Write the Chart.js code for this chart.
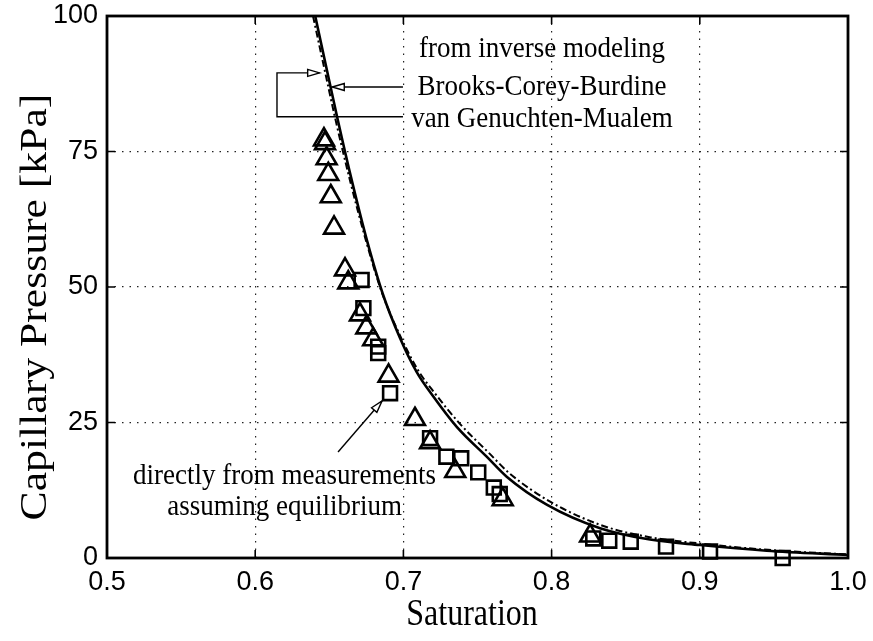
<!DOCTYPE html>
<html><head><meta charset="utf-8">
<script src="https://cdn.jsdelivr.net/npm/chart.js@4.4.1/dist/chart.umd.min.js"></script>
<style>html,body{margin:0;padding:0;background:#fff;} #wrap{width:873px;height:641px;position:relative;}</style>
</head><body><div id="wrap"><canvas id="c"></canvas></div>
<script>
// ---- data ----
const xTickLabels = ['0.5','0.6','0.7','0.8','0.9','1.0'];
const yTickLabels = ['0','25','50','75','100'];

// measured: triangles
const triSat = [0.6464,0.6471,0.6482,0.6493,0.6510,0.6532,0.6606,0.6628,0.6707,0.6750,0.6796,0.6900,0.7078,0.7180,0.7350,0.7670,0.8260];
const triP   = [77.2,  76.5,  73.7,  70.8,  66.7,  60.9,  53.2,  50.8,  44.9,  42.5,  40.3,  33.6,  25.6,  21.3,  16.0,  10.8,  4.1];
// measured: squares
const sqSat = [0.6718,0.6730,0.6830,0.6830,0.6910,0.7180,0.7290,0.7390,0.7505,0.7610,0.7650,0.8281,0.8389,0.8534,0.8772,0.9069,0.9559];
const sqP   = [51.3,  46.1,  39.0,  37.8,  30.4,  22.1,  18.7,  18.4,  15.8,  13.0,  11.8,  3.6,   3.2,   3.0,   2.1,   1.2,   0.0];
// inverse modeling: van Genuchten-Mualem (solid)
const vgSat = [0.6405,0.648,0.6555,0.6655,0.6755,0.686,0.6977,0.709,0.7202,0.736,0.7562,0.7697,0.797,0.8327,0.8664,0.9002,0.9451,1.000];
const vgP   = [100,   90.5, 81.1,  69.3,  58.5,  48.8, 40.6,  34.3, 29.8,  24.2, 18.7,  15.0,  9.8,  5.5,   3.4,   2.4,   1.35,  0.55];
// inverse modeling: Brooks-Corey-Burdine (dash-dot)
const bcSat = [0.639,0.6465,0.654,0.6643,0.6748,0.6857,0.698,0.710,0.7215,0.738,0.758,0.7717,0.799,0.834,0.867,0.901,0.946,1.000];
const bcP   = [100,  90.5,  81.1, 69.3,  58.5,  48.8,  40.9, 34.6, 30.3,  24.8, 19.3, 15.6,  10.4, 6.0,  3.8,  2.65, 1.5,  0.65];

const xTitle = 'Saturation';
const yTitle = 'Capillary Pressure [kPa]';
const noteTop = ['from inverse modeling','Brooks-Corey-Burdine','van Genuchten-Mualem'];
const noteBottom = ['directly from measurements','assuming equilibrium'];

// ---- annotation layout (data coordinates) ----
const noteTopPos = {s:0.7935, p:[92.4, 85.4, 79.5]};
const noteBottomPos = {s:0.6198, p:[13.65, 7.93]};
const leaderBC = [[0.6997,86.9],[0.6520,86.9]];
const leaderVG = [[0.6997,81.4],[0.6147,81.4],[0.6147,89.5],[0.6435,89.5]];
const leaderMeas = [[0.6559,19.56],[0.6856,28.97]];

const pts = (xs, ys) => xs.map((v,i)=>({x:v, y:ys[i]}));

function openArrow(ctx, fx, fy, tx, ty, len, half){
  const ang = Math.atan2(ty-fy, tx-fx);
  const bx = tx - Math.cos(ang)*len, by = ty - Math.sin(ang)*len;
  const nx = -Math.sin(ang)*half, ny = Math.cos(ang)*half;
  ctx.beginPath();
  ctx.moveTo(tx,ty); ctx.lineTo(bx+nx,by+ny); ctx.lineTo(bx-nx,by-ny); ctx.closePath();
  ctx.fillStyle='#fff'; ctx.fill(); ctx.stroke();
}
function drawLeader(ctx, X, Y, path){
  ctx.beginPath();
  path.forEach((q,i)=>{ const px=X(q[0]), py=Y(q[1]); if(i===0) ctx.moveTo(px,py); else ctx.lineTo(px,py); });
  ctx.stroke();
  const n=path.length;
  openArrow(ctx, X(path[n-2][0]), Y(path[n-2][1]), X(path[n-1][0]), Y(path[n-1][1]), 12, 3.5);
}
function stretchText(ctx, str, cx, cy, font, sx, sy, rot, baseline){
  ctx.save();
  ctx.translate(cx, cy);
  if (rot) ctx.rotate(rot);
  ctx.scale(sx, sy);
  ctx.font = font; ctx.textAlign='center'; ctx.textBaseline=baseline||'alphabetic';
  ctx.fillStyle='#000';
  ctx.fillText(str, 0, 0);
  ctx.restore();
}

const decor = {
  id:'decor',
  beforeDraw(chart){
    const {ctx,width,height}=chart; ctx.save(); ctx.fillStyle='#fff'; ctx.fillRect(0,0,width,height); ctx.restore();
  },
  afterDraw(chart){
    const {ctx, chartArea:a, scales:{x,y}} = chart;
    const X=v=>x.getPixelForValue(v), Y=v=>y.getPixelForValue(v);
    ctx.save();
    ctx.strokeStyle='#000';
    // inward ticks
    ctx.lineWidth=1.6;
    ctx.beginPath();
    x.ticks.forEach(t=>{const px=X(t.value); ctx.moveTo(px,a.bottom); ctx.lineTo(px,a.bottom-8); ctx.moveTo(px,a.top); ctx.lineTo(px,a.top+8);});
    y.ticks.forEach(t=>{const py=Y(t.value); ctx.moveTo(a.left,py); ctx.lineTo(a.left+8,py); ctx.moveTo(a.right,py); ctx.lineTo(a.right-8,py);});
    ctx.stroke();
    // frame
    ctx.lineWidth=2.8;
    ctx.strokeRect(a.left, a.top, a.right-a.left, a.bottom-a.top);
    // leaders
    ctx.lineWidth=1.4; ctx.lineJoin='miter';
    drawLeader(ctx,X,Y,leaderBC);
    drawLeader(ctx,X,Y,leaderVG);
    drawLeader(ctx,X,Y,leaderMeas);
    // notes
    const nf = '27px "Liberation Serif", "Times New Roman", serif';
    noteTop.forEach((t,i)=>stretchText(ctx,t,X(noteTopPos.s),Y(noteTopPos.p[i]),nf,1,1.08));
    noteBottom.forEach((t,i)=>stretchText(ctx,t,X(noteBottomPos.s),Y(noteBottomPos.p[i]),nf,1,1.08));
    // axis titles
    stretchText(ctx,xTitle,472,615,'32px "Liberation Serif", "Times New Roman", serif',1,1.2,0,'middle');
    stretchText(ctx,yTitle,36,307,'37px "Liberation Serif", "Times New Roman", serif',1.18,1,-Math.PI/2,'middle');
    ctx.restore();
  }
};

const tickFont = {family:'"Liberation Sans Narrow", "Liberation Sans", Arial, sans-serif', size:27};

new Chart(document.getElementById('c'), {
  type:'scatter',
  data:{datasets:[
    {label:'van Genuchten-Mualem', data:pts(vgSat,vgP), showLine:true, borderColor:'#000', borderWidth:2.6, pointRadius:0, cubicInterpolationMode:'monotone', order:3},
    {label:'Brooks-Corey-Burdine', data:pts(bcSat,bcP), showLine:true, borderColor:'#000', borderWidth:2, borderDash:[7,3,2,3], pointRadius:0, cubicInterpolationMode:'monotone', order:4},
    {label:'measured (triangles)', data:pts(triSat,triP), pointStyle:'triangle', pointRadius:11.5, pointBorderWidth:2.6, borderColor:'#000', backgroundColor:'rgba(0,0,0,0)', clip:false, order:1},
    {label:'measured (squares)', data:pts(sqSat,sqP), pointStyle:'rect', pointRadius:9.8, pointBorderWidth:2.6, borderColor:'#000', backgroundColor:'rgba(0,0,0,0)', clip:false, order:2}
  ]},
  options:{
    responsive:true, maintainAspectRatio:false, animation:false,
    layout:{padding:{top:16,right:25,bottom:0,left:0}},
    plugins:{legend:{display:false}, tooltip:{enabled:false}},
    scales:{
      x:{type:'linear', min:0.5, max:1.0,
         ticks:{stepSize:0.1, color:'#000', font:tickFont, padding:8, maxRotation:0,
                callback:(v,i)=>xTickLabels[i]},
         grid:{color:'#222', lineWidth:1.2, drawTicks:false},
         border:{display:false, dash:[1.5,6]},
         afterFit:s=>{s.height=83; s.paddingLeft=0; s.paddingRight=0;}},
      y:{type:'linear', min:0, max:100,
         ticks:{stepSize:25, color:'#000', font:tickFont, padding:9,
                callback:(v,i)=>yTickLabels[i]},
         grid:{color:'#222', lineWidth:1.2, drawTicks:false},
         border:{display:false, dash:[1.5,6]},
         afterFit:s=>{s.width=107; s.paddingTop=0; s.paddingBottom=0;}}
    }
  },
  plugins:[decor]
});
</script></body></html>
